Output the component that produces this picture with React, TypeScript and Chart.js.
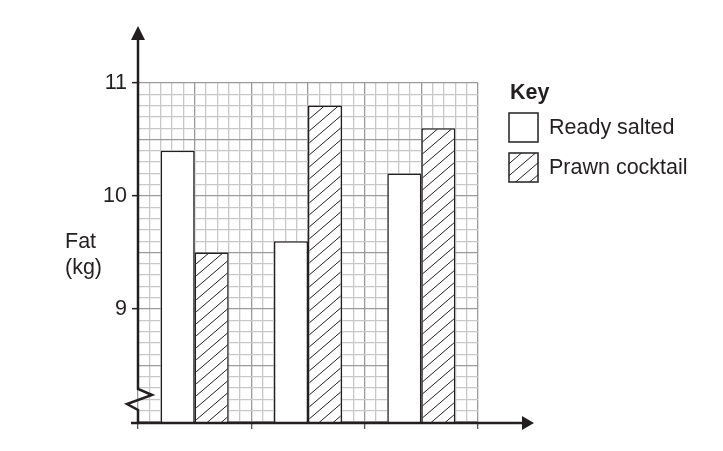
import { useEffect, useRef } from "react";
import { Chart, registerables, type Plugin } from "chart.js";

Chart.register(...registerables);

const flavours = ["1", "2", "3"];
const readySalted = [10.4, 9.6, 10.2];
const prawnCocktail = [9.5, 10.8, 10.6];
const keyLabels = ["Ready salted", "Prawn cocktail"];
const yMin = 8;
const yMax = 11;
const gridSquares = 30;

const INK = "#231f20";
const FONT = "Arial, 'Liberation Sans', sans-serif";
const SIZE = 21.5;
const CLEAR = "rgba(0,0,0,0)";

function makeHatch(): CanvasPattern | string {
    const c = document.createElement("canvas");
    const w = 14;
    const h = 12;
    c.width = w;
    c.height = h;
    const g = c.getContext("2d");
    if (!g) return "#fff";
    g.fillStyle = "#fff";
    g.fillRect(0, 0, w, h);
    g.strokeStyle = INK;
    g.lineWidth = 1;
    for (const dx of [-w, 0, w]) {
        g.beginPath();
        g.moveTo(dx, h);
        g.lineTo(dx + w, 0);
        g.stroke();
    }
    return g.createPattern(c, "repeat") ?? "#fff";
}

// axes with arrows, the break in the y axis, the y title and the key
const decorations: Plugin<"bar"> = {
    id: "decorations",
    afterDraw(chart) {
        const { ctx, chartArea } = chart;
        const { left, right, bottom } = chartArea;
        const hatch = chart.data.datasets[1].backgroundColor as CanvasPattern;
        ctx.save();
        ctx.strokeStyle = INK;
        ctx.fillStyle = INK;
        ctx.lineWidth = 2.5;
        ctx.lineJoin = "miter";

        // y axis with break
        ctx.beginPath();
        ctx.moveTo(left, 36);
        ctx.lineTo(left, 389);
        ctx.lineTo(left + 14, 395);
        ctx.lineTo(left - 11, 404);
        ctx.lineTo(left, 410);
        ctx.lineTo(left, bottom + 1);
        ctx.stroke();
        ctx.beginPath();
        ctx.moveTo(left, 26);
        ctx.lineTo(left - 7, 40);
        ctx.lineTo(left + 7, 40);
        ctx.closePath();
        ctx.fill();

        // x axis
        ctx.beginPath();
        ctx.moveTo(left - 7, bottom + 1);
        ctx.lineTo(right + 46, bottom + 1);
        ctx.stroke();
        ctx.beginPath();
        ctx.moveTo(right + 56, bottom + 1);
        ctx.lineTo(right + 44, bottom - 6);
        ctx.lineTo(right + 44, bottom + 8);
        ctx.closePath();
        ctx.fill();

        // y title
        ctx.font = `${SIZE}px ${FONT}`;
        ctx.textAlign = "left";
        ctx.textBaseline = "alphabetic";
        ctx.fillText("Fat", 65, 248);
        ctx.fillText("(kg)", 65, 274);

        // key
        ctx.font = `bold ${SIZE}px ${FONT}`;
        ctx.fillText("Key", 510, 99);
        ctx.font = `${SIZE}px ${FONT}`;
        const boxes = [
            { y: 113, fill: "#fff" as string | CanvasPattern },
            { y: 153, fill: hatch },
        ];
        ctx.lineWidth = 1.5;
        boxes.forEach((b, i) => {
            ctx.fillStyle = b.fill;
            ctx.fillRect(509, b.y, 29, 29);
            ctx.strokeStyle = INK;
            ctx.strokeRect(509, b.y, 29, 29);
            ctx.fillStyle = INK;
            ctx.fillText(keyLabels[i], 549, b.y + 21);
        });
        ctx.restore();
    },
};

const App = () => {
    const chartRef = useRef<HTMLCanvasElement>(null);
    const chartInstance = useRef<Chart | null>(null);

    useEffect(() => {
        document.body.style.margin = "0";
        if (!chartRef.current) return;
        if (chartInstance.current) chartInstance.current.destroy();
        const ctx = chartRef.current.getContext("2d");
        if (!ctx) return;

        const hatch = makeHatch();
        const isInt = (v: number) => Math.abs(v - Math.round(v)) < 1e-6;
        const tickVal = (c: any): number | null => (c && c.tick ? Number(c.tick.value) : null);

        chartInstance.current = new Chart(ctx, {
            type: "bar",
            data: {
                labels: flavours,
                datasets: [
                    {
                        label: keyLabels[0],
                        data: readySalted,
                        backgroundColor: "#ffffff",
                        borderColor: INK,
                        borderWidth: 1.5,
                        categoryPercentage: 0.6,
                        barPercentage: 1.0,
                    },
                    {
                        label: keyLabels[1],
                        data: prawnCocktail,
                        backgroundColor: hatch as any,
                        borderColor: INK,
                        borderWidth: 1.5,
                        categoryPercentage: 0.6,
                        barPercentage: 1.0,
                    },
                ],
            },
            options: {
                animation: false,
                responsive: false,
                maintainAspectRatio: false,
                layout: { padding: { left: 0, top: 83, right: 245, bottom: 0 } },
                plugins: {
                    legend: { display: false },
                    tooltip: { enabled: false },
                },
                scales: {
                    x: {
                        type: "category",
                        position: "bottom",
                        grid: { display: false },
                        ticks: { display: false },
                        border: { display: false },
                        afterFit: (s) => { s.height = 0; },
                    },
                    xGrid: {
                        type: "linear",
                        position: "bottom",
                        offset: false,
                        min: 0,
                        max: gridSquares,
                        ticks: { display: false, stepSize: 1, autoSkip: false },
                        border: { display: false },
                        grid: {
                            offset: false,
                            color: (c) => {
                                const v = tickVal(c);
                                return v !== null && Math.round(v) % 5 === 0 ? "#9a9a9a" : "#c8c8c8";
                            },
                            lineWidth: 1.3,
                            tickLength: 7,
                            tickWidth: 1.3,
                            tickColor: (c) => {
                                const v = tickVal(c);
                                return v !== null && Math.round(v) % 10 === 0 ? "#555555" : CLEAR;
                            },
                        },
                        afterFit: (s) => { s.height = 451 - 422; },
                    },
                    y: {
                        type: "linear",
                        min: yMin,
                        max: yMax,
                        border: { display: false },
                        ticks: {
                            stepSize: 0.1,
                            autoSkip: false,
                            padding: 5,
                            color: INK,
                            font: { family: FONT, size: SIZE },
                            callback: (v) => {
                                const n = Number(v);
                                return isInt(n) && Math.round(n) !== yMin ? String(Math.round(n)) : "";
                            },
                        },
                        grid: {
                            color: (c) => {
                                const v = tickVal(c);
                                return v !== null && Math.round(v * 10) % 5 === 0 ? "#9a9a9a" : "#c8c8c8";
                            },
                            lineWidth: 1.3,
                            tickLength: 6,
                            tickWidth: 1.5,
                            tickColor: (c) => {
                                const v = tickVal(c);
                                return v !== null && isInt(v) && Math.round(v) !== yMin ? INK : CLEAR;
                            },
                        },
                        afterFit: (s) => { s.width = 138; },
                    },
                },
            },
            plugins: [decorations],
        });

        return () => {
            if (chartInstance.current) {
                chartInstance.current.destroy();
                chartInstance.current = null;
            }
        };
    }, []);

    return (
        <div style={{ width: 723, height: 451, position: "relative", background: "#fff" }}>
            <canvas ref={chartRef} width={723} height={451} style={{ width: 723, height: 451 }}></canvas>
        </div>
    );
};

export default App;
